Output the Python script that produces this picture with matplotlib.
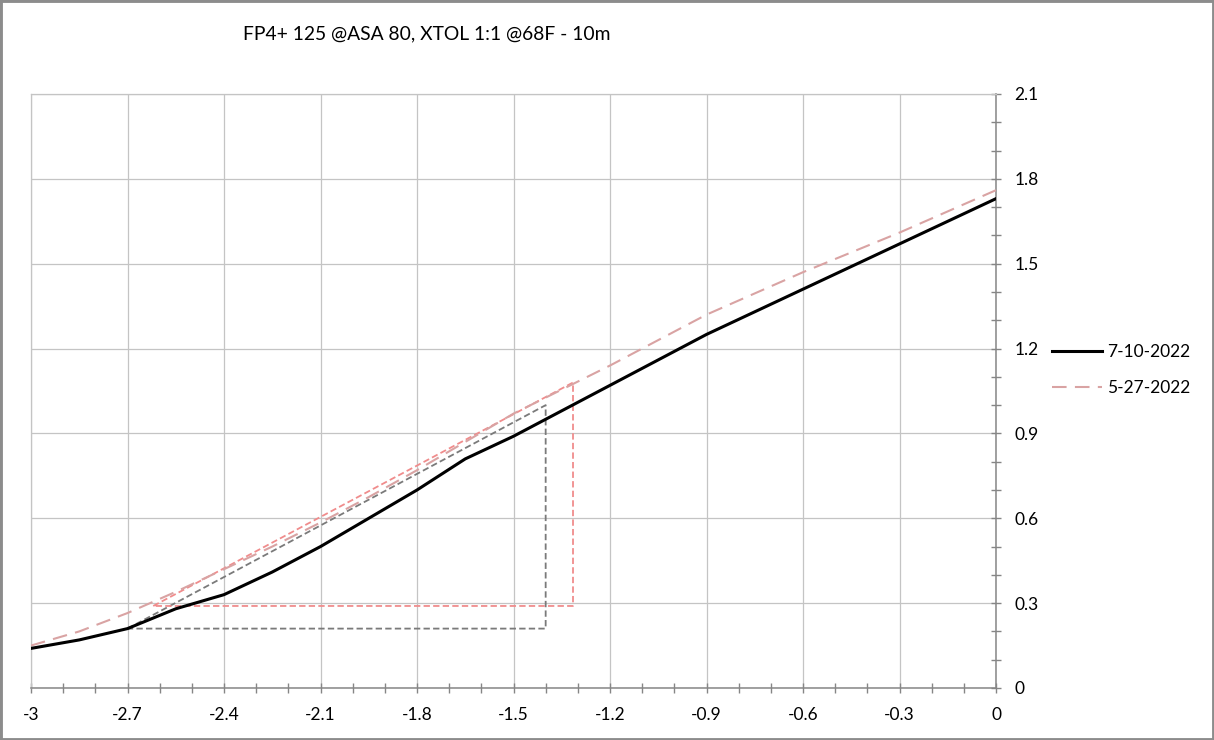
import numpy as np
import matplotlib
matplotlib.use('Agg')
import matplotlib.pyplot as plt
from matplotlib.patches import Rectangle
from matplotlib.ticker import MultipleLocator, FixedLocator

plt.rcParams['font.family'] = ['Lato', 'DejaVu Sans']

# log exposure steps
x_steps = [-3, -2.85, -2.7, -2.55, -2.4, -2.25, -2.1, -1.95, -1.8, -1.65, -1.5,
           -1.35, -1.2, -1.05, -0.9, -0.75, -0.6, -0.45, -0.3, -0.15, 0]

# density curves
d_0710 = [0.14, 0.17, 0.21, 0.28, 0.33, 0.41, 0.50, 0.60, 0.70, 0.81, 0.89,
          0.98, 1.07, 1.16, 1.25, 1.33, 1.41, 1.49, 1.57, 1.65, 1.73]
d_0527 = [0.15, 0.20, 0.265, 0.34, 0.42, 0.50, 0.585, 0.675, 0.77, 0.87, 0.97,
          1.055, 1.14, 1.23, 1.32, 1.395, 1.47, 1.54, 1.61, 1.685, 1.76]

# contrast index triangles
tri_0710_x = [-2.7, -1.4, -1.4, -2.7]
tri_0710_y = [0.21, 1.00, 0.21, 0.21]
tri_0527_x = [-2.62, -1.315, -1.315, -2.62]
tri_0527_y = [0.29, 1.08, 0.29, 0.29]

labels = ['7-10-2022', '5-27-2022']
title = 'FP4+ 125 @ASA 80, XTOL 1:1 @68F - 10m'

fig = plt.figure(figsize=(12.14, 7.40), dpi=100)
ax = fig.add_axes([31/1214, 52/740, 965/1214, 594/740])

ax.plot(tri_0710_x, tri_0710_y, color='#7a7a7a', lw=1.3, dashes=(3.5, 1.8), zorder=3)
ax.plot(tri_0527_x, tri_0527_y, color='#f08c8c', lw=1.3, dashes=(3.5, 1.8), zorder=3)

ax.plot(x_steps, d_0710, color='black', lw=2.2, label=labels[0], zorder=5)
ax.plot(x_steps, d_0527, color='#d9a3a3', lw=1.5, dashes=(7, 4), label=labels[1], zorder=4)

ax.set_xlim(-3, 0)
ax.set_ylim(0, 2.1)

ax.xaxis.set_major_locator(FixedLocator(np.round(np.arange(-3, 0.01, 0.3), 2)))
ax.xaxis.set_minor_locator(MultipleLocator(0.1))
ax.yaxis.set_major_locator(FixedLocator(np.round(np.arange(0, 2.11, 0.3), 2)))
ax.yaxis.set_minor_locator(MultipleLocator(0.1))
ax.set_xticklabels(['-3', '-2.7', '-2.4', '-2.1', '-1.8', '-1.5', '-1.2', '-0.9', '-0.6', '-0.3', '0'])
ax.set_yticklabels(['0', '0.3', '0.6', '0.9', '1.2', '1.5', '1.8', '2.1'])

ax.yaxis.tick_right()
ax.grid(True, which='major', color='#c4c4c4', lw=0.9, zorder=0)
ax.set_axisbelow(True)

for s in ['left', 'top']:
    ax.spines[s].set_color('#c4c4c4')
    ax.spines[s].set_linewidth(0.9)
for s in ['bottom', 'right']:
    ax.spines[s].set_color('#868686')
    ax.spines[s].set_linewidth(1.1)

ax.tick_params(axis='both', which='both', direction='inout', length=7.5,
               width=1, color='#868686', labelsize=12.5, pad=10)
ax.tick_params(axis='y', which='both', left=False, right=True, length=6.5)

fig.text(243/1214, 1 - 34/740, title, ha='left', va='center', fontsize=13.9)

fig.legend(loc='center left', bbox_to_anchor=(1052/1214, 0.5), frameon=False,
           fontsize=12.5, handlelength=2.9, handletextpad=0.28, labelspacing=1.15,
           borderpad=0, borderaxespad=0)

fig.patches.append(Rectangle((0, 0), 1, 1, transform=fig.transFigure, fill=False,
                             edgecolor='#8c8c8c', lw=3.5))

plt.savefig('out.png', dpi=100)
